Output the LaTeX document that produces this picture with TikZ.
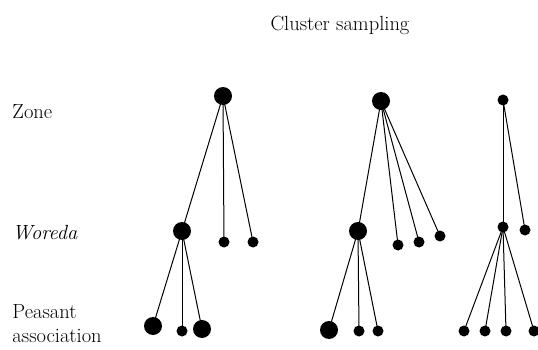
\documentclass[tikz,border=0pt]{standalone}
\tikzset{
  bigdot/.style={circle,fill=black,inner sep=0pt,minimum size=18pt},
  smalldot/.style={circle,fill=black,inner sep=0pt,minimum size=11pt},
  levellabel/.style={anchor=base west,inner sep=0pt,font=\fontsize{20.5}{24}\selectfont,align=left}
}
\begin{document}
\begin{tikzpicture}[x=1pt,y=-1pt,line width=1pt]
                \useasboundingbox (0,0) rectangle (538,350);
                \node[levellabel] (title) at (270,31) {Cluster sampling};
                \node[levellabel] (zone) at (12,119) {Zone};
                \node[levellabel] (woreda) at (12,239) {\itshape Woreda};
                \node[levellabel] (pa1) at (12,318) {Peasant};
                \node[levellabel] (pa2) at (12,342) {association};
                % first cluster
                \node[bigdot]   (ra) at (223,96)  {};
                \node[bigdot]   (wa) at (182,231) {};
                \node[smalldot] (sa1) at (224,242) {};
                \node[smalldot] (sa2) at (253,242) {};
                \node[bigdot]   (pa) at (153,326) {};
                \node[smalldot] (pb) at (182,331) {};
                \node[bigdot]   (pc) at (202,329) {};
                \draw (ra.center) -- (wa.center);
                \draw (ra.center) -- (sa1.center);
                \draw (ra.center) -- (sa2.center);
                \draw (wa.center) -- (pa.center);
                \draw (wa.center) -- (pb.center);
                \draw (wa.center) -- (pc.center);
                % second cluster
                \node[bigdot]   (rb) at (381,101) {};
                \node[bigdot]   (wb) at (358,231) {};
                \node[smalldot] (sb1) at (398,245) {};
                \node[smalldot] (sb2) at (419,242) {};
                \node[smalldot] (sb3) at (440,236) {};
                \node[bigdot]   (pd) at (329,330) {};
                \node[smalldot] (pe) at (359,331) {};
                \node[smalldot] (pf) at (378,331) {};
                \draw (rb.center) -- (wb.center);
                \draw (rb.center) -- (sb1.center);
                \draw (rb.center) -- (sb2.center);
                \draw (rb.center) -- (sb3.center);
                \draw (wb.center) -- (pd.center);
                \draw (wb.center) -- (pe.center);
                \draw (wb.center) -- (pf.center);
                % third cluster
                \node[smalldot] (rc) at (503,100) {};
                \node[smalldot] (wc) at (503,227) {};
                \node[smalldot] (sc1) at (525,230) {};
                \node[smalldot] (pg) at (464,331) {};
                \node[smalldot] (ph) at (485,331) {};
                \node[smalldot] (pi) at (506,331) {};
                \node[smalldot] (pj) at (534,331) {};
                \draw (rc.center) -- (wc.center);
                \draw (rc.center) -- (sc1.center);
                \draw (wc.center) -- (pg.center);
                \draw (wc.center) -- (ph.center);
                \draw (wc.center) -- (pi.center);
                \draw (wc.center) -- (pj.center);
\end{tikzpicture}
\end{document}
